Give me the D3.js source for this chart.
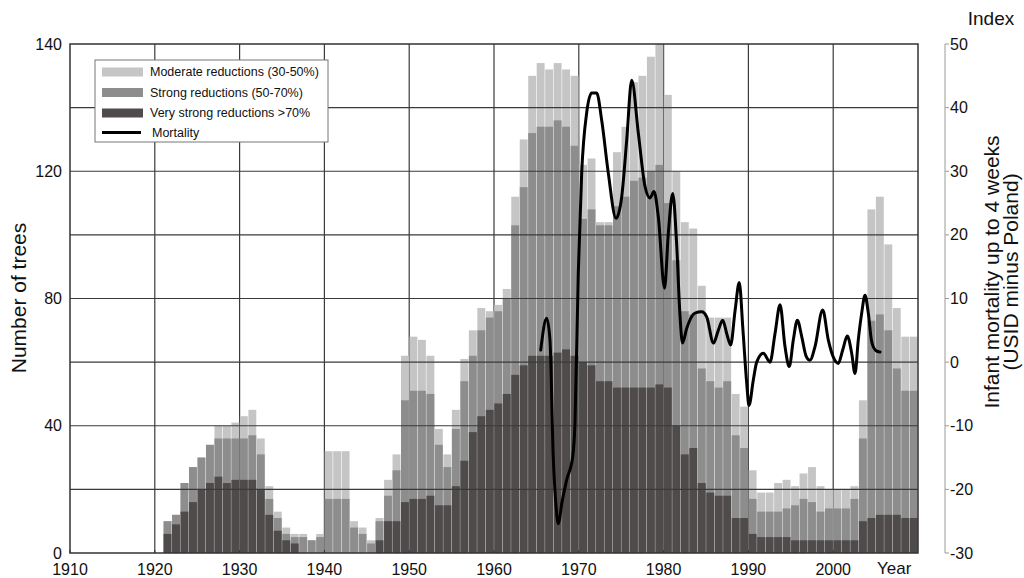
<!DOCTYPE html>
<html>
<head>
<meta charset="utf-8">
<script src="https://cdn.jsdelivr.net/npm/d3@7"></script>
<style>
  html, body { margin: 0; padding: 0; background: #fff; }
  svg { display: block; font-family: Arial, "Liberation Sans", sans-serif; }
</style>
</head>
<body>
<svg id="chart" width="1024" height="578"></svg>
<script>
// Years with a tree-ring value (one column per year)
const years = [
  1921,1922,1923,1924,1925,1926,1927,1928,1929,1930,
  1931,1932,1933,1934,1935,1936,1937,1938,1939,1940,
  1941,1942,1943,1944,1945,1946,1947,1948,1949,1950,
  1951,1952,1953,1954,1955,1956,1957,1958,1959,1960,
  1961,1962,1963,1964,1965,1966,1967,1968,1969,1970,
  1971,1972,1973,1974,1975,1976,1977,1978,1979,1980,
  1981,1982,1983,1984,1985,1986,1987,1988,1989,1990,
  1991,1992,1993,1994,1995,1996,1997,1998,1999,2000,
  2001,2002,2003,2004,2005,2006,2007,2008,2009
];

// Number of trees with a growth reduction of at least 30 %
const reductions30 = [
  10,12,22,27,30,34,40,40,41,43,
  45,36,21,13,8,6,6,4,6,32,
  32,32,10,8,4,11,23,31,62,68,
  67,62,39,31,45,61,70,77,76,78,
  83,112,125,135,137,136,137,136,135,121,
  122,104,104,123,127,134,135,138,140,132,
  120,104,102,84,74,74,74,50,46,26,
  19,19,22,23,21,25,27,21,20,20,
  20,21,48,108,112,97,77,68,68
];

// Number of trees with a growth reduction of at least 50 %
const reductions50 = [
  10,12,22,27,30,34,36,36,36,36,
  37,31,17,11,6,5,5,4,5,17,
  17,17,8,6,3,10,18,26,48,51,
  51,50,34,27,39,54,62,70,74,76,
  80,103,115,126,127,127,128,127,124,105,
  108,103,103,109,112,117,118,120,121,110,
  92,76,75,58,54,52,54,37,33,17,
  13,13,13,14,15,17,16,13,14,14,
  14,17,36,73,75,70,58,51,51
];

// Number of trees with a growth reduction above 70 %
const reductions70 = [
  6,9,13,16,20,22,24,22,23,23,
  23,20,12,7,4,3,0,0,0,0,
  0,0,0,0,0,4,10,10,16,17,
  17,18,15,15,21,29,38,43,45,47,
  50,56,59,62,62,62,63,64,62,60,
  59,54,54,52,52,52,52,52,53,52,
  40,31,33,22,19,18,18,11,11,6,
  5,5,5,5,4,4,4,4,4,4,
  4,4,10,11,12,12,12,11,11
];

// Infant mortality up to 4 weeks, index (USID minus Poland)
const mortalityYear = [
  1965.51,1966.21,1966.60,1966.99,1967.28,1967.58,1968.02,1968.57,1969.28,1969.55,
  1969.94,1970.34,1970.93,1971.52,1972.11,1972.70,1973.48,1974.39,1975.06,1975.65,
  1976.24,1977.02,1977.81,1978.40,1978.87,1979.38,1980.11,1980.56,1981.08,1981.54,
  1981.93,1982.23,1982.72,1983.70,1984.49,1985.08,1985.88,1986.45,1986.97,1987.48,
  1987.91,1988.42,1988.92,1989.36,1989.80,1990.07,1990.58,1990.98,1991.76,1992.55,
  1993.14,1993.73,1994.32,1994.82,1995.30,1995.77,1996.29,1996.79,1997.26,1997.85,
  1998.76,1999.42,2000.01,2000.60,2001.12,2001.66,2002.18,2002.57,2002.96,2003.36,
  2003.75,2004.14,2004.54,2005.05,2005.52
];
const mortalityIndex = [
  1.9,6.9,3.5,-15.0,-22.0,-25.4,-22.0,-18.5,-14.9,-9.6,
  14.0,29.7,39.2,42.3,42.3,38.0,29.7,22.6,26.0,34.9,
  44.3,36.0,27.6,25.8,26.8,22.8,11.6,20.3,26.5,18.5,
  7.4,3.0,5.3,7.7,7.9,7.1,3.0,5.0,6.6,4.3,
  2.7,8.0,12.5,5.0,-3.3,-6.8,-2.8,0.0,1.4,0.0,
  4.5,9.0,2.4,-0.7,3.5,6.6,4.0,1.0,0.3,2.4,
  8.2,3.5,0.8,-0.2,1.9,4.1,1.4,-1.8,3.5,7.7,
  10.5,7.7,3.2,1.8,1.6
];

// Axis ticks
const yearTicks = [1910,1920,1930,1940,1950,1960,1970,1980,1990,2000];
const treeTicks = [0,40,80,120,140];
const indexTicks = [-30,-20,-10,0,10,20,30,40,50];

// Legend entries
const legendLabels = [
  "Moderate reductions (30-50%)",
  "Strong reductions (50-70%)",
  "Very strong reductions >70%",
  "Mortality"
];

const colors = { moderate: "#c5c5c5", strong: "#8d8d8d", veryStrong: "#4f4b4b" };

// ---- layout ----
const plot = { left: 70, right: 918, top: 44, bottom: 553 };
const svg = d3.select("#chart");

const x = d3.scaleLinear().domain([1910, 2010]).range([plot.left, plot.right]);
const yTrees = d3.scaleLinear().domain([0, 120, 140]).range([plot.bottom, 171.25, plot.top]);
const yIndex = d3.scaleLinear().domain([-30, 50]).range([plot.bottom, plot.top]);

const gridColor = "#3a3a3a";

// vertical grid (behind the columns)
svg.append("g")
  .selectAll("line")
  .data(yearTicks.filter(t => t > 1910))
  .join("line")
  .attr("x1", d => x(d)).attr("x2", d => x(d))
  .attr("y1", plot.top).attr("y2", plot.bottom)
  .attr("stroke", gridColor).attr("stroke-width", 1.2);

// columns: three overlaid layers per year
const layers = [
  { values: reductions30, color: colors.moderate },
  { values: reductions50, color: colors.strong },
  { values: reductions70, color: colors.veryStrong }
];
const gap = 0.3;
layers.forEach(layer => {
  svg.append("g")
    .selectAll("rect")
    .data(years.map((yr, i) => ({ yr, v: layer.values[i] })))
    .join("rect")
    .attr("x", d => x(d.yr) + gap)
    .attr("width", d => x(d.yr + 1) - x(d.yr) - 2 * gap)
    .attr("y", d => yTrees(d.v))
    .attr("height", d => plot.bottom - yTrees(d.v))
    .attr("fill", layer.color);
});

// horizontal grid (drawn across the columns)
svg.append("g")
  .selectAll("line")
  .data(indexTicks.filter(t => t > -30 && t < 50))
  .join("line")
  .attr("x1", plot.left).attr("x2", plot.right)
  .attr("y1", d => yIndex(d)).attr("y2", d => yIndex(d))
  .attr("stroke", gridColor).attr("stroke-width", 1.2);

// frame
svg.append("rect")
  .attr("x", plot.left).attr("y", plot.top)
  .attr("width", plot.right - plot.left).attr("height", plot.bottom - plot.top)
  .attr("fill", "none").attr("stroke", "#333").attr("stroke-width", 1.5);

// small year ticks on the bottom axis
svg.append("g")
  .selectAll("line")
  .data(yearTicks)
  .join("line")
  .attr("x1", d => x(d)).attr("x2", d => x(d))
  .attr("y1", plot.bottom).attr("y2", plot.bottom - 3)
  .attr("stroke", "#333").attr("stroke-width", 1);

// mortality curve
const mortality = mortalityYear.map((yr, i) => [yr, mortalityIndex[i]]);
svg.append("path")
  .datum(mortality)
  .attr("d", d3.line().x(d => x(d[0])).y(d => yIndex(d[1])).curve(d3.curveMonotoneX))
  .attr("fill", "none").attr("stroke", "#000").attr("stroke-width", 3)
  .attr("stroke-linejoin", "round").attr("stroke-linecap", "round");

// ---- axes text ----
const axisFont = 16;
const titleFont = 21;

// left axis labels
svg.append("g")
  .selectAll("text")
  .data(treeTicks)
  .join("text")
  .attr("x", plot.left - 8)
  .attr("y", d => yTrees(d))
  .attr("dy", "0.35em")
  .attr("text-anchor", "end")
  .attr("font-size", axisFont)
  .attr("fill", "#111")
  .text(d => d);

svg.append("text")
  .attr("transform", "translate(26,298) rotate(-90)")
  .attr("text-anchor", "middle")
  .attr("font-size", titleFont)
  .attr("fill", "#111")
  .text("Number of trees");

// bottom axis labels
svg.append("g")
  .selectAll("text")
  .data(yearTicks)
  .join("text")
  .attr("x", d => x(d))
  .attr("y", 575)
  .attr("text-anchor", "middle")
  .attr("font-size", axisFont)
  .attr("fill", "#111")
  .text(d => d);

svg.append("text")
  .attr("x", 877).attr("y", 574)
  .attr("font-size", axisFont + 1)
  .attr("fill", "#111")
  .text("Year");

// right axis (index)
const rightX = 945;
svg.append("line")
  .attr("x1", rightX).attr("x2", rightX)
  .attr("y1", yIndex(50)).attr("y2", yIndex(-30))
  .attr("stroke", "#9a9a9a").attr("stroke-width", 1);
svg.append("g")
  .selectAll("line")
  .data(indexTicks)
  .join("line")
  .attr("x1", rightX).attr("x2", rightX + 4)
  .attr("y1", d => yIndex(d)).attr("y2", d => yIndex(d))
  .attr("stroke", "#9a9a9a").attr("stroke-width", 1);
svg.append("g")
  .selectAll("text")
  .data(indexTicks)
  .join("text")
  .attr("x", rightX + 5)
  .attr("y", d => yIndex(d))
  .attr("dy", "0.35em")
  .attr("font-size", axisFont)
  .attr("fill", "#111")
  .text(d => d);

svg.append("text")
  .attr("x", 991).attr("y", 25)
  .attr("text-anchor", "middle")
  .attr("font-size", 19)
  .attr("fill", "#111")
  .text("Index");

svg.append("text")
  .attr("transform", "translate(999,272) rotate(-90)")
  .attr("text-anchor", "middle")
  .attr("font-size", titleFont)
  .attr("fill", "#111")
  .text("Infant mortality up to 4 weeks");
svg.append("text")
  .attr("transform", "translate(1018,272) rotate(-90)")
  .attr("text-anchor", "middle")
  .attr("font-size", titleFont)
  .attr("fill", "#111")
  .text("(USID minus Poland)");

// ---- legend ----
const legend = svg.append("g");
legend.append("rect")
  .attr("x", 95).attr("y", 60).attr("width", 233).attr("height", 82)
  .attr("fill", "#fff").attr("stroke", "#777").attr("stroke-width", 1);

const swatchColors = [colors.moderate, colors.strong, colors.veryStrong];
const rowY = [72, 92.5, 113, 132.5];
legendLabels.forEach((label, i) => {
  if (i < 3) {
    legend.append("rect")
      .attr("x", 102).attr("y", rowY[i] - 4.5)
      .attr("width", 41).attr("height", 9)
      .attr("fill", swatchColors[i]);
  } else {
    legend.append("line")
      .attr("x1", 102).attr("x2", 141)
      .attr("y1", rowY[i]).attr("y2", rowY[i])
      .attr("stroke", "#000").attr("stroke-width", 3);
  }
  legend.append("text")
    .attr("x", i < 3 ? 150 : 152)
    .attr("y", rowY[i])
    .attr("dy", "0.35em")
    .attr("font-size", 12.5)
    .attr("fill", "#111")
    .text(label);
});
</script>
</body>
</html>
